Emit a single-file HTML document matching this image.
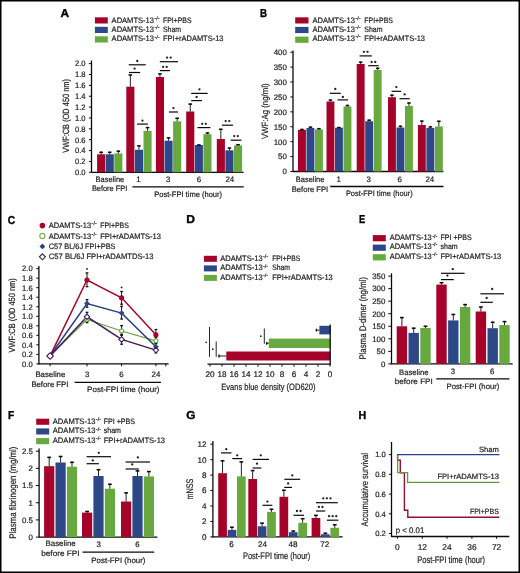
<!DOCTYPE html>
<html><head><meta charset="utf-8"><style>
html,body{margin:0;padding:0;background:#fff;width:520px;height:573px;overflow:hidden}
svg{display:block;will-change:transform}
text{font-family:"Liberation Sans", sans-serif;text-rendering:geometricPrecision;stroke:#222;stroke-width:0.2px}
</style></head><body>
<svg width="520" height="573" viewBox="0 0 520 573">
<rect width="520" height="573" fill="#fff"/>
<g fill="#222">
<rect x="0.75" y="0.75" width="518.5" height="571.5" fill="none" stroke="#000" stroke-width="1.5"/>
<text x="60.60" y="17.10" font-size="11.5" textLength="8.60" lengthAdjust="spacingAndGlyphs" font-weight="bold" fill="#000" style="stroke:#000;stroke-width:0.35px">A</text>
<rect x="94.90" y="17.30" width="12.90" height="6.20" fill="#a6032b"/>
<text x="111.60" y="22.80" font-size="7.9" textLength="42.40" lengthAdjust="spacingAndGlyphs">ADAMTS-13</text>
<text x="154.40" y="19.90" font-size="5.2" textLength="5.20" lengthAdjust="spacingAndGlyphs">-/-</text>
<text x="163.00" y="22.80" font-size="7.9" textLength="28.50" lengthAdjust="spacingAndGlyphs">FPI+PBS</text>
<rect x="94.90" y="26.80" width="12.90" height="6.20" fill="#2d4886"/>
<text x="111.60" y="32.20" font-size="7.9" textLength="42.40" lengthAdjust="spacingAndGlyphs">ADAMTS-13</text>
<text x="154.40" y="29.30" font-size="5.2" textLength="5.20" lengthAdjust="spacingAndGlyphs">-/-</text>
<text x="163.00" y="32.20" font-size="7.9" textLength="18.10" lengthAdjust="spacingAndGlyphs">Sham</text>
<rect x="94.90" y="36.30" width="12.90" height="6.20" fill="#67a93f"/>
<text x="111.60" y="41.40" font-size="7.9" textLength="42.40" lengthAdjust="spacingAndGlyphs">ADAMTS-13</text>
<text x="154.40" y="38.50" font-size="5.2" textLength="5.20" lengthAdjust="spacingAndGlyphs">-/-</text>
<text x="163.00" y="41.40" font-size="7.9" textLength="60.50" lengthAdjust="spacingAndGlyphs">FPI+rADAMTS-13</text>
<line x1="91.50" y1="60.50" x2="91.50" y2="172.80" stroke="#0a0a0a" stroke-width="1.3"/>
<line x1="88.90" y1="172.30" x2="91.50" y2="172.30" stroke="#0a0a0a" stroke-width="1.0"/>
<text x="74.90" y="175.14" font-size="7.9" textLength="10.60" lengthAdjust="spacingAndGlyphs">0.0</text>
<line x1="88.90" y1="161.43" x2="91.50" y2="161.43" stroke="#0a0a0a" stroke-width="1.0"/>
<text x="74.90" y="164.27" font-size="7.9" textLength="10.60" lengthAdjust="spacingAndGlyphs">0.2</text>
<line x1="88.90" y1="150.56" x2="91.50" y2="150.56" stroke="#0a0a0a" stroke-width="1.0"/>
<text x="74.90" y="153.40" font-size="7.9" textLength="10.60" lengthAdjust="spacingAndGlyphs">0.4</text>
<line x1="88.90" y1="139.69" x2="91.50" y2="139.69" stroke="#0a0a0a" stroke-width="1.0"/>
<text x="74.90" y="142.53" font-size="7.9" textLength="10.60" lengthAdjust="spacingAndGlyphs">0.6</text>
<line x1="88.90" y1="128.82" x2="91.50" y2="128.82" stroke="#0a0a0a" stroke-width="1.0"/>
<text x="74.90" y="131.66" font-size="7.9" textLength="10.60" lengthAdjust="spacingAndGlyphs">0.8</text>
<line x1="88.90" y1="117.95" x2="91.50" y2="117.95" stroke="#0a0a0a" stroke-width="1.0"/>
<text x="74.90" y="120.79" font-size="7.9" textLength="10.60" lengthAdjust="spacingAndGlyphs">1.0</text>
<line x1="88.90" y1="107.08" x2="91.50" y2="107.08" stroke="#0a0a0a" stroke-width="1.0"/>
<text x="74.90" y="109.92" font-size="7.9" textLength="10.60" lengthAdjust="spacingAndGlyphs">1.2</text>
<line x1="88.90" y1="96.21" x2="91.50" y2="96.21" stroke="#0a0a0a" stroke-width="1.0"/>
<text x="74.90" y="99.05" font-size="7.9" textLength="10.60" lengthAdjust="spacingAndGlyphs">1.4</text>
<line x1="88.90" y1="85.34" x2="91.50" y2="85.34" stroke="#0a0a0a" stroke-width="1.0"/>
<text x="74.90" y="88.18" font-size="7.9" textLength="10.60" lengthAdjust="spacingAndGlyphs">1.6</text>
<line x1="88.90" y1="74.47" x2="91.50" y2="74.47" stroke="#0a0a0a" stroke-width="1.0"/>
<text x="74.90" y="77.31" font-size="7.9" textLength="10.60" lengthAdjust="spacingAndGlyphs">1.8</text>
<line x1="88.90" y1="63.60" x2="91.50" y2="63.60" stroke="#0a0a0a" stroke-width="1.0"/>
<text x="74.90" y="66.44" font-size="7.9" textLength="10.60" lengthAdjust="spacingAndGlyphs">2.0</text>
<line x1="91.50" y1="172.30" x2="243.60" y2="172.30" stroke="#0a0a0a" stroke-width="1.3"/>
<text x="68.60" y="152.80" font-size="9.0" textLength="73.80" lengthAdjust="spacingAndGlyphs" transform="rotate(-90 68.60 152.80)">VWF:CB (OD 450 nm)</text>
<rect x="97.10" y="154.30" width="8.10" height="18.00" fill="#a6032b"/>
<line x1="101.15" y1="154.30" x2="101.15" y2="151.60" stroke="#0a0a0a" stroke-width="0.9"/>
<line x1="99.35" y1="152.30" x2="102.95" y2="152.30" stroke="#0a0a0a" stroke-width="1.5"/>
<rect x="105.70" y="154.30" width="8.10" height="18.00" fill="#2d4886"/>
<line x1="109.75" y1="154.30" x2="109.75" y2="151.60" stroke="#0a0a0a" stroke-width="0.9"/>
<line x1="107.95" y1="152.30" x2="111.55" y2="152.30" stroke="#0a0a0a" stroke-width="1.5"/>
<rect x="114.30" y="153.40" width="8.10" height="18.90" fill="#67a93f"/>
<line x1="118.35" y1="153.40" x2="118.35" y2="150.50" stroke="#0a0a0a" stroke-width="0.9"/>
<line x1="116.55" y1="151.20" x2="120.15" y2="151.20" stroke="#0a0a0a" stroke-width="1.5"/>
<rect x="126.30" y="86.70" width="8.10" height="85.60" fill="#a6032b"/>
<line x1="130.35" y1="86.70" x2="130.35" y2="74.30" stroke="#0a0a0a" stroke-width="0.9"/>
<line x1="128.55" y1="75.00" x2="132.15" y2="75.00" stroke="#0a0a0a" stroke-width="1.5"/>
<rect x="134.90" y="149.80" width="8.10" height="22.50" fill="#2d4886"/>
<line x1="138.95" y1="149.80" x2="138.95" y2="145.20" stroke="#0a0a0a" stroke-width="0.9"/>
<line x1="137.15" y1="145.90" x2="140.75" y2="145.90" stroke="#0a0a0a" stroke-width="1.5"/>
<rect x="143.50" y="130.90" width="8.10" height="41.40" fill="#67a93f"/>
<line x1="147.55" y1="130.90" x2="147.55" y2="126.90" stroke="#0a0a0a" stroke-width="0.9"/>
<line x1="145.75" y1="127.60" x2="149.35" y2="127.60" stroke="#0a0a0a" stroke-width="1.5"/>
<rect x="155.90" y="77.00" width="8.10" height="95.30" fill="#a6032b"/>
<line x1="159.95" y1="77.00" x2="159.95" y2="73.20" stroke="#0a0a0a" stroke-width="0.9"/>
<line x1="158.15" y1="73.90" x2="161.75" y2="73.90" stroke="#0a0a0a" stroke-width="1.5"/>
<rect x="164.50" y="140.70" width="8.10" height="31.60" fill="#2d4886"/>
<line x1="168.55" y1="140.70" x2="168.55" y2="137.20" stroke="#0a0a0a" stroke-width="0.9"/>
<line x1="166.75" y1="137.90" x2="170.35" y2="137.90" stroke="#0a0a0a" stroke-width="1.5"/>
<rect x="173.10" y="121.30" width="8.10" height="51.00" fill="#67a93f"/>
<line x1="177.15" y1="121.30" x2="177.15" y2="117.60" stroke="#0a0a0a" stroke-width="0.9"/>
<line x1="175.35" y1="118.30" x2="178.95" y2="118.30" stroke="#0a0a0a" stroke-width="1.5"/>
<rect x="186.20" y="111.50" width="8.10" height="60.80" fill="#a6032b"/>
<line x1="190.25" y1="111.50" x2="190.25" y2="103.40" stroke="#0a0a0a" stroke-width="0.9"/>
<line x1="188.45" y1="104.10" x2="192.05" y2="104.10" stroke="#0a0a0a" stroke-width="1.5"/>
<rect x="194.80" y="145.00" width="8.10" height="27.30" fill="#2d4886"/>
<line x1="198.85" y1="145.00" x2="198.85" y2="144.30" stroke="#0a0a0a" stroke-width="0.9"/>
<line x1="197.05" y1="145.00" x2="200.65" y2="145.00" stroke="#0a0a0a" stroke-width="1.5"/>
<rect x="203.40" y="134.20" width="8.10" height="38.10" fill="#67a93f"/>
<line x1="207.45" y1="134.20" x2="207.45" y2="132.30" stroke="#0a0a0a" stroke-width="0.9"/>
<line x1="205.65" y1="133.00" x2="209.25" y2="133.00" stroke="#0a0a0a" stroke-width="1.5"/>
<rect x="216.80" y="139.00" width="8.10" height="33.30" fill="#a6032b"/>
<line x1="220.85" y1="139.00" x2="220.85" y2="128.60" stroke="#0a0a0a" stroke-width="0.9"/>
<line x1="219.05" y1="129.30" x2="222.65" y2="129.30" stroke="#0a0a0a" stroke-width="1.5"/>
<rect x="225.40" y="150.30" width="8.10" height="22.00" fill="#2d4886"/>
<line x1="229.45" y1="150.30" x2="229.45" y2="147.40" stroke="#0a0a0a" stroke-width="0.9"/>
<line x1="227.65" y1="148.10" x2="231.25" y2="148.10" stroke="#0a0a0a" stroke-width="1.5"/>
<rect x="234.00" y="145.40" width="8.10" height="26.90" fill="#67a93f"/>
<line x1="238.05" y1="145.40" x2="238.05" y2="144.00" stroke="#0a0a0a" stroke-width="0.9"/>
<line x1="236.25" y1="144.70" x2="239.85" y2="144.70" stroke="#0a0a0a" stroke-width="1.5"/>
<line x1="128.70" y1="64.80" x2="145.80" y2="64.80" stroke="#0a0a0a" stroke-width="1.2"/>
<circle cx="137.25" cy="61.00" r="1.15" fill="#1e1e1e"/>
<line x1="129.00" y1="72.50" x2="140.20" y2="72.50" stroke="#0a0a0a" stroke-width="1.2"/>
<circle cx="134.60" cy="68.60" r="1.15" fill="#1e1e1e"/>
<line x1="137.00" y1="124.10" x2="147.90" y2="124.10" stroke="#0a0a0a" stroke-width="1.2"/>
<circle cx="142.45" cy="120.60" r="1.15" fill="#1e1e1e"/>
<line x1="159.80" y1="61.70" x2="178.00" y2="61.70" stroke="#0a0a0a" stroke-width="1.2"/>
<circle cx="167.10" cy="57.60" r="1.15" fill="#1e1e1e"/>
<circle cx="170.70" cy="57.60" r="1.15" fill="#1e1e1e"/>
<line x1="159.80" y1="70.60" x2="170.00" y2="70.60" stroke="#0a0a0a" stroke-width="1.2"/>
<circle cx="163.10" cy="66.90" r="1.15" fill="#1e1e1e"/>
<circle cx="166.70" cy="66.90" r="1.15" fill="#1e1e1e"/>
<line x1="168.90" y1="112.00" x2="178.00" y2="112.00" stroke="#0a0a0a" stroke-width="1.2"/>
<circle cx="173.45" cy="108.10" r="1.15" fill="#1e1e1e"/>
<line x1="191.20" y1="93.40" x2="207.70" y2="93.40" stroke="#0a0a0a" stroke-width="1.2"/>
<circle cx="199.45" cy="89.30" r="1.15" fill="#1e1e1e"/>
<line x1="191.20" y1="100.60" x2="202.00" y2="100.60" stroke="#0a0a0a" stroke-width="1.2"/>
<circle cx="196.60" cy="97.00" r="1.15" fill="#1e1e1e"/>
<line x1="197.50" y1="127.60" x2="210.40" y2="127.60" stroke="#0a0a0a" stroke-width="1.2"/>
<circle cx="202.15" cy="123.80" r="1.15" fill="#1e1e1e"/>
<circle cx="205.75" cy="123.80" r="1.15" fill="#1e1e1e"/>
<line x1="221.90" y1="125.20" x2="233.00" y2="125.20" stroke="#0a0a0a" stroke-width="1.2"/>
<circle cx="225.65" cy="121.10" r="1.15" fill="#1e1e1e"/>
<circle cx="229.25" cy="121.10" r="1.15" fill="#1e1e1e"/>
<line x1="230.60" y1="140.20" x2="241.50" y2="140.20" stroke="#0a0a0a" stroke-width="1.2"/>
<circle cx="234.25" cy="136.10" r="1.15" fill="#1e1e1e"/>
<circle cx="237.85" cy="136.10" r="1.15" fill="#1e1e1e"/>
<text x="95.60" y="182.04" font-size="7.9" textLength="28.60" lengthAdjust="spacingAndGlyphs">Baseline</text>
<text x="91.90" y="191.14" font-size="7.9" textLength="35.30" lengthAdjust="spacingAndGlyphs">Before FPI</text>
<text x="138.40" y="182.04" font-size="7.9" text-anchor="middle">1</text>
<text x="168.30" y="182.04" font-size="7.9" text-anchor="middle">3</text>
<text x="199.00" y="182.04" font-size="7.9" text-anchor="middle">6</text>
<text x="229.80" y="182.04" font-size="7.9" text-anchor="middle">24</text>
<line x1="132.40" y1="186.90" x2="243.70" y2="186.90" stroke="#0a0a0a" stroke-width="1.3"/>
<text x="154.20" y="197.44" font-size="7.9" textLength="67.90" lengthAdjust="spacingAndGlyphs">Post-FPI time (hour)</text>
<text x="260.00" y="17.00" font-size="11.5" textLength="7.00" lengthAdjust="spacingAndGlyphs" font-weight="bold" fill="#000" style="stroke:#000;stroke-width:0.35px">B</text>
<rect x="295.20" y="17.30" width="13.30" height="6.20" fill="#a6032b"/>
<text x="312.50" y="22.50" font-size="7.9" textLength="42.50" lengthAdjust="spacingAndGlyphs">ADAMTS-13</text>
<text x="355.40" y="19.60" font-size="5.2" textLength="5.20" lengthAdjust="spacingAndGlyphs">-/-</text>
<text x="364.30" y="22.50" font-size="7.9" textLength="28.70" lengthAdjust="spacingAndGlyphs">FPI+PBS</text>
<rect x="295.20" y="26.90" width="13.30" height="6.20" fill="#2d4886"/>
<text x="312.50" y="32.00" font-size="7.9" textLength="42.50" lengthAdjust="spacingAndGlyphs">ADAMTS-13</text>
<text x="355.40" y="29.10" font-size="5.2" textLength="5.20" lengthAdjust="spacingAndGlyphs">-/-</text>
<text x="364.30" y="32.00" font-size="7.9" textLength="18.20" lengthAdjust="spacingAndGlyphs">Sham</text>
<rect x="295.20" y="36.60" width="13.30" height="6.20" fill="#67a93f"/>
<text x="312.50" y="41.10" font-size="7.9" textLength="42.50" lengthAdjust="spacingAndGlyphs">ADAMTS-13</text>
<text x="355.40" y="38.20" font-size="5.2" textLength="5.20" lengthAdjust="spacingAndGlyphs">-/-</text>
<text x="364.30" y="41.10" font-size="7.9" textLength="60.70" lengthAdjust="spacingAndGlyphs">FPI+rADAMTS-13</text>
<line x1="293.00" y1="50.50" x2="293.00" y2="172.00" stroke="#0a0a0a" stroke-width="1.3"/>
<line x1="290.40" y1="171.50" x2="293.00" y2="171.50" stroke="#0a0a0a" stroke-width="1.0"/>
<text x="286.90" y="174.34" font-size="7.9" text-anchor="end">0</text>
<line x1="290.40" y1="156.59" x2="293.00" y2="156.59" stroke="#0a0a0a" stroke-width="1.0"/>
<text x="286.90" y="159.43" font-size="7.9" text-anchor="end">50</text>
<line x1="290.40" y1="141.68" x2="293.00" y2="141.68" stroke="#0a0a0a" stroke-width="1.0"/>
<text x="286.90" y="144.52" font-size="7.9" text-anchor="end">100</text>
<line x1="290.40" y1="126.76" x2="293.00" y2="126.76" stroke="#0a0a0a" stroke-width="1.0"/>
<text x="286.90" y="129.61" font-size="7.9" text-anchor="end">150</text>
<line x1="290.40" y1="111.85" x2="293.00" y2="111.85" stroke="#0a0a0a" stroke-width="1.0"/>
<text x="286.90" y="114.69" font-size="7.9" text-anchor="end">200</text>
<line x1="290.40" y1="96.94" x2="293.00" y2="96.94" stroke="#0a0a0a" stroke-width="1.0"/>
<text x="286.90" y="99.78" font-size="7.9" text-anchor="end">250</text>
<line x1="290.40" y1="82.02" x2="293.00" y2="82.02" stroke="#0a0a0a" stroke-width="1.0"/>
<text x="286.90" y="84.87" font-size="7.9" text-anchor="end">300</text>
<line x1="290.40" y1="67.11" x2="293.00" y2="67.11" stroke="#0a0a0a" stroke-width="1.0"/>
<text x="286.90" y="69.96" font-size="7.9" text-anchor="end">350</text>
<line x1="290.40" y1="52.20" x2="293.00" y2="52.20" stroke="#0a0a0a" stroke-width="1.0"/>
<text x="286.90" y="55.04" font-size="7.9" text-anchor="end">400</text>
<line x1="293.00" y1="171.50" x2="443.40" y2="171.50" stroke="#0a0a0a" stroke-width="1.3"/>
<text x="268.00" y="139.00" font-size="9.0" textLength="55.60" lengthAdjust="spacingAndGlyphs" transform="rotate(-90 268.00 139.00)">VWF:Ag (ng/ml)</text>
<rect x="298.00" y="129.80" width="7.90" height="41.70" fill="#a6032b"/>
<line x1="301.95" y1="129.80" x2="301.95" y2="128.80" stroke="#0a0a0a" stroke-width="0.9"/>
<line x1="300.20" y1="129.50" x2="303.70" y2="129.50" stroke="#0a0a0a" stroke-width="1.5"/>
<rect x="306.50" y="128.00" width="7.90" height="43.50" fill="#2d4886"/>
<line x1="310.45" y1="128.00" x2="310.45" y2="126.50" stroke="#0a0a0a" stroke-width="0.9"/>
<line x1="308.70" y1="127.20" x2="312.20" y2="127.20" stroke="#0a0a0a" stroke-width="1.5"/>
<rect x="315.00" y="129.40" width="7.90" height="42.10" fill="#67a93f"/>
<line x1="318.95" y1="129.40" x2="318.95" y2="128.00" stroke="#0a0a0a" stroke-width="0.9"/>
<line x1="317.20" y1="128.70" x2="320.70" y2="128.70" stroke="#0a0a0a" stroke-width="1.5"/>
<rect x="326.50" y="101.50" width="7.90" height="70.00" fill="#a6032b"/>
<line x1="330.45" y1="101.50" x2="330.45" y2="99.40" stroke="#0a0a0a" stroke-width="0.9"/>
<line x1="328.70" y1="100.10" x2="332.20" y2="100.10" stroke="#0a0a0a" stroke-width="1.5"/>
<rect x="335.00" y="127.70" width="7.90" height="43.80" fill="#2d4886"/>
<line x1="338.95" y1="127.70" x2="338.95" y2="126.90" stroke="#0a0a0a" stroke-width="0.9"/>
<line x1="337.20" y1="127.60" x2="340.70" y2="127.60" stroke="#0a0a0a" stroke-width="1.5"/>
<rect x="343.50" y="106.50" width="7.90" height="65.00" fill="#67a93f"/>
<line x1="347.45" y1="106.50" x2="347.45" y2="104.80" stroke="#0a0a0a" stroke-width="0.9"/>
<line x1="345.70" y1="105.50" x2="349.20" y2="105.50" stroke="#0a0a0a" stroke-width="1.5"/>
<rect x="356.70" y="64.00" width="7.90" height="107.50" fill="#a6032b"/>
<line x1="360.65" y1="64.00" x2="360.65" y2="61.50" stroke="#0a0a0a" stroke-width="0.9"/>
<line x1="358.90" y1="62.20" x2="362.40" y2="62.20" stroke="#0a0a0a" stroke-width="1.5"/>
<rect x="365.20" y="121.20" width="7.90" height="50.30" fill="#2d4886"/>
<line x1="369.15" y1="121.20" x2="369.15" y2="119.50" stroke="#0a0a0a" stroke-width="0.9"/>
<line x1="367.40" y1="120.20" x2="370.90" y2="120.20" stroke="#0a0a0a" stroke-width="1.5"/>
<rect x="373.70" y="70.00" width="7.90" height="101.50" fill="#67a93f"/>
<line x1="377.65" y1="70.00" x2="377.65" y2="67.60" stroke="#0a0a0a" stroke-width="0.9"/>
<line x1="375.90" y1="68.30" x2="379.40" y2="68.30" stroke="#0a0a0a" stroke-width="1.5"/>
<rect x="388.00" y="97.20" width="7.90" height="74.30" fill="#a6032b"/>
<line x1="391.95" y1="97.20" x2="391.95" y2="94.50" stroke="#0a0a0a" stroke-width="0.9"/>
<line x1="390.20" y1="95.20" x2="393.70" y2="95.20" stroke="#0a0a0a" stroke-width="1.5"/>
<rect x="396.50" y="127.50" width="7.90" height="44.00" fill="#2d4886"/>
<line x1="400.45" y1="127.50" x2="400.45" y2="125.60" stroke="#0a0a0a" stroke-width="0.9"/>
<line x1="398.70" y1="126.30" x2="402.20" y2="126.30" stroke="#0a0a0a" stroke-width="1.5"/>
<rect x="405.00" y="106.00" width="7.90" height="65.50" fill="#67a93f"/>
<line x1="408.95" y1="106.00" x2="408.95" y2="102.30" stroke="#0a0a0a" stroke-width="0.9"/>
<line x1="407.20" y1="103.00" x2="410.70" y2="103.00" stroke="#0a0a0a" stroke-width="1.5"/>
<rect x="417.90" y="125.00" width="7.90" height="46.50" fill="#a6032b"/>
<line x1="421.85" y1="125.00" x2="421.85" y2="120.40" stroke="#0a0a0a" stroke-width="0.9"/>
<line x1="420.10" y1="121.10" x2="423.60" y2="121.10" stroke="#0a0a0a" stroke-width="1.5"/>
<rect x="426.40" y="127.90" width="7.90" height="43.60" fill="#2d4886"/>
<line x1="430.35" y1="127.90" x2="430.35" y2="126.20" stroke="#0a0a0a" stroke-width="0.9"/>
<line x1="428.60" y1="126.90" x2="432.10" y2="126.90" stroke="#0a0a0a" stroke-width="1.5"/>
<rect x="434.90" y="126.50" width="7.90" height="45.00" fill="#67a93f"/>
<line x1="438.85" y1="126.50" x2="438.85" y2="120.60" stroke="#0a0a0a" stroke-width="0.9"/>
<line x1="437.10" y1="121.30" x2="440.60" y2="121.30" stroke="#0a0a0a" stroke-width="1.5"/>
<line x1="329.80" y1="93.30" x2="340.80" y2="93.30" stroke="#0a0a0a" stroke-width="1.2"/>
<circle cx="335.30" cy="89.00" r="1.15" fill="#1e1e1e"/>
<line x1="337.60" y1="99.90" x2="348.10" y2="99.90" stroke="#0a0a0a" stroke-width="1.2"/>
<circle cx="342.85" cy="97.00" r="1.15" fill="#1e1e1e"/>
<line x1="359.60" y1="55.90" x2="371.80" y2="55.90" stroke="#0a0a0a" stroke-width="1.2"/>
<circle cx="363.90" cy="51.80" r="1.15" fill="#1e1e1e"/>
<circle cx="367.50" cy="51.80" r="1.15" fill="#1e1e1e"/>
<line x1="368.20" y1="65.70" x2="378.70" y2="65.70" stroke="#0a0a0a" stroke-width="1.2"/>
<circle cx="371.65" cy="62.00" r="1.15" fill="#1e1e1e"/>
<circle cx="375.25" cy="62.00" r="1.15" fill="#1e1e1e"/>
<line x1="391.60" y1="91.30" x2="401.20" y2="91.30" stroke="#0a0a0a" stroke-width="1.2"/>
<circle cx="396.40" cy="87.10" r="1.15" fill="#1e1e1e"/>
<line x1="399.50" y1="98.70" x2="409.70" y2="98.70" stroke="#0a0a0a" stroke-width="1.2"/>
<circle cx="404.60" cy="94.40" r="1.15" fill="#1e1e1e"/>
<text x="295.80" y="182.04" font-size="7.9" textLength="28.60" lengthAdjust="spacingAndGlyphs">Baseline</text>
<text x="291.80" y="191.64" font-size="7.9" textLength="36.30" lengthAdjust="spacingAndGlyphs">Before FPI</text>
<text x="338.80" y="181.84" font-size="7.9" text-anchor="middle">1</text>
<text x="368.70" y="181.84" font-size="7.9" text-anchor="middle">3</text>
<text x="399.80" y="181.84" font-size="7.9" text-anchor="middle">6</text>
<text x="429.80" y="181.84" font-size="7.9" text-anchor="middle">24</text>
<line x1="330.20" y1="186.50" x2="443.50" y2="186.50" stroke="#0a0a0a" stroke-width="1.3"/>
<text x="345.90" y="196.44" font-size="7.9" textLength="66.80" lengthAdjust="spacingAndGlyphs">Post-FPI time (hour)</text>
<text x="7.70" y="223.60" font-size="11.5" textLength="7.40" lengthAdjust="spacingAndGlyphs" font-weight="bold" fill="#000" style="stroke:#000;stroke-width:0.35px">C</text>
<circle cx="42.40" cy="225.60" r="2.8" fill="#a6032b"/>
<circle cx="42.40" cy="236.00" r="2.6" fill="#fff" stroke="#78b04e" stroke-width="1.1"/>
<polygon points="42.4,243.5 45.3,246.4 42.4,249.3 39.5,246.4" fill="#2c4277"/>
<polygon points="42.4,253.8 45.4,256.8 42.4,259.8 39.4,256.8" fill="#fff" stroke="#35204d" stroke-width="1.1"/>
<text x="48.80" y="228.30" font-size="7.9" textLength="42.40" lengthAdjust="spacingAndGlyphs">ADAMTS-13</text>
<text x="91.60" y="225.40" font-size="5.2" textLength="5.20" lengthAdjust="spacingAndGlyphs">-/-</text>
<text x="100.20" y="228.30" font-size="7.9" textLength="28.60" lengthAdjust="spacingAndGlyphs">FPI+PBS</text>
<text x="48.80" y="238.60" font-size="7.9" textLength="42.40" lengthAdjust="spacingAndGlyphs">ADAMTS-13</text>
<text x="91.60" y="235.70" font-size="5.2" textLength="5.20" lengthAdjust="spacingAndGlyphs">-/-</text>
<text x="100.20" y="238.60" font-size="7.9" textLength="60.80" lengthAdjust="spacingAndGlyphs">FPI+rADAMTS-13</text>
<text x="48.80" y="248.90" font-size="7.9" textLength="66.70" lengthAdjust="spacingAndGlyphs">C57 BL/6J FPI+PBS</text>
<text x="48.80" y="259.20" font-size="7.9" textLength="104.70" lengthAdjust="spacingAndGlyphs">C57 BL/6J FPI+rADAMTDS-13</text>
<line x1="38.90" y1="266.00" x2="38.90" y2="364.40" stroke="#0a0a0a" stroke-width="1.3"/>
<line x1="36.30" y1="363.90" x2="38.90" y2="363.90" stroke="#0a0a0a" stroke-width="1.0"/>
<text x="22.10" y="366.74" font-size="7.9" textLength="10.60" lengthAdjust="spacingAndGlyphs">0.0</text>
<line x1="36.30" y1="354.37" x2="38.90" y2="354.37" stroke="#0a0a0a" stroke-width="1.0"/>
<text x="22.10" y="357.21" font-size="7.9" textLength="10.60" lengthAdjust="spacingAndGlyphs">0.2</text>
<line x1="36.30" y1="344.84" x2="38.90" y2="344.84" stroke="#0a0a0a" stroke-width="1.0"/>
<text x="22.10" y="347.68" font-size="7.9" textLength="10.60" lengthAdjust="spacingAndGlyphs">0.4</text>
<line x1="36.30" y1="335.31" x2="38.90" y2="335.31" stroke="#0a0a0a" stroke-width="1.0"/>
<text x="22.10" y="338.15" font-size="7.9" textLength="10.60" lengthAdjust="spacingAndGlyphs">0.6</text>
<line x1="36.30" y1="325.78" x2="38.90" y2="325.78" stroke="#0a0a0a" stroke-width="1.0"/>
<text x="22.10" y="328.62" font-size="7.9" textLength="10.60" lengthAdjust="spacingAndGlyphs">0.8</text>
<line x1="36.30" y1="316.25" x2="38.90" y2="316.25" stroke="#0a0a0a" stroke-width="1.0"/>
<text x="22.10" y="319.09" font-size="7.9" textLength="10.60" lengthAdjust="spacingAndGlyphs">1.0</text>
<line x1="36.30" y1="306.72" x2="38.90" y2="306.72" stroke="#0a0a0a" stroke-width="1.0"/>
<text x="22.10" y="309.56" font-size="7.9" textLength="10.60" lengthAdjust="spacingAndGlyphs">1.2</text>
<line x1="36.30" y1="297.19" x2="38.90" y2="297.19" stroke="#0a0a0a" stroke-width="1.0"/>
<text x="22.10" y="300.03" font-size="7.9" textLength="10.60" lengthAdjust="spacingAndGlyphs">1.4</text>
<line x1="36.30" y1="287.66" x2="38.90" y2="287.66" stroke="#0a0a0a" stroke-width="1.0"/>
<text x="22.10" y="290.50" font-size="7.9" textLength="10.60" lengthAdjust="spacingAndGlyphs">1.6</text>
<line x1="36.30" y1="278.13" x2="38.90" y2="278.13" stroke="#0a0a0a" stroke-width="1.0"/>
<text x="22.10" y="280.97" font-size="7.9" textLength="10.60" lengthAdjust="spacingAndGlyphs">1.8</text>
<line x1="36.30" y1="268.60" x2="38.90" y2="268.60" stroke="#0a0a0a" stroke-width="1.0"/>
<text x="22.10" y="271.44" font-size="7.9" textLength="10.60" lengthAdjust="spacingAndGlyphs">2.0</text>
<line x1="38.90" y1="363.90" x2="168.60" y2="363.90" stroke="#0a0a0a" stroke-width="1.3"/>
<line x1="50.10" y1="363.90" x2="50.10" y2="366.30" stroke="#0a0a0a" stroke-width="1.0"/>
<line x1="87.00" y1="363.90" x2="87.00" y2="366.30" stroke="#0a0a0a" stroke-width="1.0"/>
<line x1="121.60" y1="363.90" x2="121.60" y2="366.30" stroke="#0a0a0a" stroke-width="1.0"/>
<line x1="155.90" y1="363.90" x2="155.90" y2="366.30" stroke="#0a0a0a" stroke-width="1.0"/>
<line x1="165.80" y1="363.90" x2="165.80" y2="366.30" stroke="#0a0a0a" stroke-width="1.0"/>
<text x="15.10" y="352.40" font-size="9.0" textLength="74.20" lengthAdjust="spacingAndGlyphs" transform="rotate(-90 15.10 352.40)">VWF:CB (OD 450 nm)</text>
<line x1="87.00" y1="272.60" x2="87.00" y2="287.00" stroke="#111" stroke-width="1.0"/>
<line x1="85.60" y1="272.90" x2="88.40" y2="272.90" stroke="#0a0a0a" stroke-width="1.2"/>
<line x1="85.60" y1="286.70" x2="88.40" y2="286.70" stroke="#0a0a0a" stroke-width="1.2"/>
<line x1="121.60" y1="291.20" x2="121.60" y2="304.50" stroke="#111" stroke-width="1.0"/>
<line x1="120.20" y1="291.50" x2="123.00" y2="291.50" stroke="#0a0a0a" stroke-width="1.2"/>
<line x1="120.20" y1="304.20" x2="123.00" y2="304.20" stroke="#0a0a0a" stroke-width="1.2"/>
<line x1="155.90" y1="329.20" x2="155.90" y2="340.00" stroke="#111" stroke-width="1.0"/>
<line x1="154.50" y1="329.50" x2="157.30" y2="329.50" stroke="#0a0a0a" stroke-width="1.2"/>
<line x1="154.50" y1="339.70" x2="157.30" y2="339.70" stroke="#0a0a0a" stroke-width="1.2"/>
<line x1="87.00" y1="315.00" x2="87.00" y2="323.00" stroke="#111" stroke-width="1.0"/>
<line x1="85.60" y1="315.30" x2="88.40" y2="315.30" stroke="#0a0a0a" stroke-width="1.2"/>
<line x1="85.60" y1="322.70" x2="88.40" y2="322.70" stroke="#0a0a0a" stroke-width="1.2"/>
<line x1="121.60" y1="325.30" x2="121.60" y2="335.50" stroke="#111" stroke-width="1.0"/>
<line x1="120.20" y1="325.60" x2="123.00" y2="325.60" stroke="#0a0a0a" stroke-width="1.2"/>
<line x1="120.20" y1="335.20" x2="123.00" y2="335.20" stroke="#0a0a0a" stroke-width="1.2"/>
<line x1="155.90" y1="337.00" x2="155.90" y2="344.00" stroke="#111" stroke-width="1.0"/>
<line x1="154.50" y1="337.30" x2="157.30" y2="337.30" stroke="#0a0a0a" stroke-width="1.2"/>
<line x1="154.50" y1="343.70" x2="157.30" y2="343.70" stroke="#0a0a0a" stroke-width="1.2"/>
<line x1="87.00" y1="299.30" x2="87.00" y2="307.50" stroke="#111" stroke-width="1.0"/>
<line x1="85.60" y1="299.60" x2="88.40" y2="299.60" stroke="#0a0a0a" stroke-width="1.2"/>
<line x1="85.60" y1="307.20" x2="88.40" y2="307.20" stroke="#0a0a0a" stroke-width="1.2"/>
<line x1="121.60" y1="306.00" x2="121.60" y2="319.30" stroke="#111" stroke-width="1.0"/>
<line x1="120.20" y1="306.30" x2="123.00" y2="306.30" stroke="#0a0a0a" stroke-width="1.2"/>
<line x1="120.20" y1="319.00" x2="123.00" y2="319.00" stroke="#0a0a0a" stroke-width="1.2"/>
<line x1="155.90" y1="343.00" x2="155.90" y2="350.00" stroke="#111" stroke-width="1.0"/>
<line x1="154.50" y1="343.30" x2="157.30" y2="343.30" stroke="#0a0a0a" stroke-width="1.2"/>
<line x1="154.50" y1="349.70" x2="157.30" y2="349.70" stroke="#0a0a0a" stroke-width="1.2"/>
<line x1="87.00" y1="312.00" x2="87.00" y2="321.80" stroke="#111" stroke-width="1.0"/>
<line x1="85.60" y1="312.30" x2="88.40" y2="312.30" stroke="#0a0a0a" stroke-width="1.2"/>
<line x1="85.60" y1="321.50" x2="88.40" y2="321.50" stroke="#0a0a0a" stroke-width="1.2"/>
<line x1="121.60" y1="334.50" x2="121.60" y2="344.50" stroke="#111" stroke-width="1.0"/>
<line x1="120.20" y1="334.80" x2="123.00" y2="334.80" stroke="#0a0a0a" stroke-width="1.2"/>
<line x1="120.20" y1="344.20" x2="123.00" y2="344.20" stroke="#0a0a0a" stroke-width="1.2"/>
<line x1="155.90" y1="347.00" x2="155.90" y2="353.20" stroke="#111" stroke-width="1.0"/>
<line x1="154.50" y1="347.30" x2="157.30" y2="347.30" stroke="#0a0a0a" stroke-width="1.2"/>
<line x1="154.50" y1="352.90" x2="157.30" y2="352.90" stroke="#0a0a0a" stroke-width="1.2"/>
<polyline points="50.10,355.80 87.00,280.00 121.60,297.80 155.90,334.80" fill="none" stroke="#a6032b" stroke-width="1.5" stroke-linejoin="miter"/>
<polyline points="50.10,355.80 87.00,319.40 121.60,331.00 155.90,340.80" fill="none" stroke="#6f9f45" stroke-width="1.2" stroke-linejoin="miter"/>
<polyline points="50.10,355.80 87.00,303.50 121.60,313.10 155.90,346.80" fill="none" stroke="#2a3f7c" stroke-width="1.5" stroke-linejoin="miter"/>
<polyline points="50.10,356.00 87.00,316.80 121.60,339.40 155.90,350.10" fill="none" stroke="#3f1d57" stroke-width="1.5" stroke-linejoin="miter"/>
<circle cx="50.10" cy="355.80" r="2.6" fill="#a6032b"/>
<circle cx="87.00" cy="280.00" r="2.6" fill="#a6032b"/>
<circle cx="121.60" cy="297.80" r="2.6" fill="#a6032b"/>
<circle cx="155.90" cy="334.80" r="2.6" fill="#a6032b"/>
<circle cx="50.10" cy="355.80" r="2.0" fill="#fff" stroke="#67a93f" stroke-width="1.1"/>
<circle cx="87.00" cy="319.40" r="2.0" fill="#fff" stroke="#67a93f" stroke-width="1.1"/>
<circle cx="121.60" cy="331.00" r="2.0" fill="#fff" stroke="#67a93f" stroke-width="1.1"/>
<circle cx="155.90" cy="340.80" r="2.0" fill="#fff" stroke="#67a93f" stroke-width="1.1"/>
<polygon points="50.1,352.90000000000003 53.0,355.8 50.1,358.7 47.2,355.8" fill="#2d4886"/>
<polygon points="87.0,300.6 89.9,303.5 87.0,306.4 84.1,303.5" fill="#2d4886"/>
<polygon points="121.6,310.20000000000005 124.5,313.1 121.6,316.0 118.69999999999999,313.1" fill="#2d4886"/>
<polygon points="155.9,343.90000000000003 158.8,346.8 155.9,349.7 153.0,346.8" fill="#2d4886"/>
<polygon points="50.1,352.7 53.4,356.0 50.1,359.3 46.800000000000004,356.0" fill="#fff" stroke="#3f1d57" stroke-width="1.1"/>
<polygon points="87.0,314.1 89.7,316.8 87.0,319.5 84.3,316.8" fill="#fff" stroke="#3f1d57" stroke-width="1.1"/>
<polygon points="121.6,336.7 124.3,339.4 121.6,342.09999999999997 118.89999999999999,339.4" fill="#fff" stroke="#3f1d57" stroke-width="1.1"/>
<polygon points="155.9,347.40000000000003 158.6,350.1 155.9,352.8 153.20000000000002,350.1" fill="#fff" stroke="#3f1d57" stroke-width="1.1"/>
<circle cx="87.00" cy="268.90" r="0.95" fill="#1e1e1e"/>
<circle cx="121.60" cy="287.40" r="0.95" fill="#1e1e1e"/>
<text x="35.40" y="377.14" font-size="7.9" textLength="29.90" lengthAdjust="spacingAndGlyphs">Baseline</text>
<text x="31.40" y="386.84" font-size="7.9" textLength="37.00" lengthAdjust="spacingAndGlyphs">Before FPI</text>
<text x="87.10" y="377.14" font-size="7.9" text-anchor="middle">3</text>
<text x="121.50" y="377.14" font-size="7.9" text-anchor="middle">6</text>
<text x="155.90" y="377.14" font-size="7.9" text-anchor="middle">24</text>
<line x1="74.60" y1="382.30" x2="160.90" y2="382.30" stroke="#0a0a0a" stroke-width="1.3"/>
<text x="87.10" y="392.44" font-size="7.9" textLength="72.40" lengthAdjust="spacingAndGlyphs">Post-FPI time (hour)</text>
<text x="186.20" y="223.00" font-size="11.5" textLength="8.70" lengthAdjust="spacingAndGlyphs" font-weight="bold" fill="#000" style="stroke:#000;stroke-width:0.35px">D</text>
<rect x="203.90" y="255.80" width="13.00" height="6.00" fill="#a6032b"/>
<text x="220.30" y="261.10" font-size="7.9" textLength="42.30" lengthAdjust="spacingAndGlyphs">ADAMTS-13</text>
<text x="263.00" y="258.20" font-size="5.2" textLength="5.20" lengthAdjust="spacingAndGlyphs">-/-</text>
<text x="272.20" y="261.10" font-size="7.9" textLength="28.10" lengthAdjust="spacingAndGlyphs">FPI+PBS</text>
<rect x="203.90" y="265.40" width="13.00" height="6.00" fill="#2d4886"/>
<text x="220.30" y="270.40" font-size="7.9" textLength="42.30" lengthAdjust="spacingAndGlyphs">ADAMTS-13</text>
<text x="263.00" y="267.50" font-size="5.2" textLength="5.20" lengthAdjust="spacingAndGlyphs">-/-</text>
<text x="272.20" y="270.40" font-size="7.9" textLength="17.80" lengthAdjust="spacingAndGlyphs">Sham</text>
<rect x="203.90" y="274.90" width="13.00" height="6.00" fill="#67a93f"/>
<text x="220.30" y="279.80" font-size="7.9" textLength="42.30" lengthAdjust="spacingAndGlyphs">ADAMTS-13</text>
<text x="263.00" y="276.90" font-size="5.2" textLength="5.20" lengthAdjust="spacingAndGlyphs">-/-</text>
<text x="272.20" y="279.80" font-size="7.9" textLength="60.60" lengthAdjust="spacingAndGlyphs">FPI+rADAMTS-13</text>
<rect x="319.40" y="325.80" width="10.80" height="8.60" fill="#2d4886"/>
<rect x="268.80" y="338.60" width="61.40" height="9.40" fill="#67a93f"/>
<rect x="226.30" y="351.50" width="103.90" height="9.00" fill="#a6032b"/>
<line x1="315.90" y1="330.10" x2="319.40" y2="330.10" stroke="#0a0a0a" stroke-width="0.9"/>
<line x1="316.40" y1="328.70" x2="316.40" y2="331.50" stroke="#0a0a0a" stroke-width="1.3"/>
<line x1="266.20" y1="343.30" x2="268.80" y2="343.30" stroke="#0a0a0a" stroke-width="0.9"/>
<line x1="266.70" y1="341.90" x2="266.70" y2="344.70" stroke="#0a0a0a" stroke-width="1.3"/>
<line x1="218.50" y1="356.00" x2="226.30" y2="356.00" stroke="#0a0a0a" stroke-width="0.9"/>
<line x1="219.00" y1="354.60" x2="219.00" y2="357.40" stroke="#0a0a0a" stroke-width="1.3"/>
<line x1="330.20" y1="324.40" x2="330.20" y2="364.70" stroke="#0a0a0a" stroke-width="1.3"/>
<line x1="207.50" y1="364.20" x2="330.70" y2="364.20" stroke="#0a0a0a" stroke-width="1.3"/>
<line x1="210.00" y1="364.20" x2="210.00" y2="366.60" stroke="#0a0a0a" stroke-width="1.0"/>
<text x="210.00" y="376.85" font-size="8.2" text-anchor="middle">20</text>
<line x1="222.00" y1="364.20" x2="222.00" y2="366.60" stroke="#0a0a0a" stroke-width="1.0"/>
<text x="222.00" y="376.85" font-size="8.2" text-anchor="middle">18</text>
<line x1="234.00" y1="364.20" x2="234.00" y2="366.60" stroke="#0a0a0a" stroke-width="1.0"/>
<text x="234.00" y="376.85" font-size="8.2" text-anchor="middle">16</text>
<line x1="246.00" y1="364.20" x2="246.00" y2="366.60" stroke="#0a0a0a" stroke-width="1.0"/>
<text x="246.00" y="376.85" font-size="8.2" text-anchor="middle">14</text>
<line x1="258.00" y1="364.20" x2="258.00" y2="366.60" stroke="#0a0a0a" stroke-width="1.0"/>
<text x="258.00" y="376.85" font-size="8.2" text-anchor="middle">12</text>
<line x1="270.00" y1="364.20" x2="270.00" y2="366.60" stroke="#0a0a0a" stroke-width="1.0"/>
<text x="270.00" y="376.85" font-size="8.2" text-anchor="middle">10</text>
<line x1="282.00" y1="364.20" x2="282.00" y2="366.60" stroke="#0a0a0a" stroke-width="1.0"/>
<text x="282.00" y="376.85" font-size="8.2" text-anchor="middle">8</text>
<line x1="294.00" y1="364.20" x2="294.00" y2="366.60" stroke="#0a0a0a" stroke-width="1.0"/>
<text x="294.00" y="376.85" font-size="8.2" text-anchor="middle">6</text>
<line x1="306.00" y1="364.20" x2="306.00" y2="366.60" stroke="#0a0a0a" stroke-width="1.0"/>
<text x="306.00" y="376.85" font-size="8.2" text-anchor="middle">4</text>
<line x1="318.00" y1="364.20" x2="318.00" y2="366.60" stroke="#0a0a0a" stroke-width="1.0"/>
<text x="318.00" y="376.85" font-size="8.2" text-anchor="middle">2</text>
<line x1="330.00" y1="364.20" x2="330.00" y2="366.60" stroke="#0a0a0a" stroke-width="1.0"/>
<text x="330.00" y="376.85" font-size="8.2" text-anchor="middle">0</text>
<text x="221.30" y="389.60" font-size="9.2" textLength="94.20" lengthAdjust="spacingAndGlyphs">Evans blue density (OD620)</text>
<line x1="209.50" y1="326.90" x2="209.50" y2="356.90" stroke="#0a0a0a" stroke-width="0.9"/>
<line x1="216.20" y1="341.50" x2="216.20" y2="356.90" stroke="#0a0a0a" stroke-width="0.9"/>
<line x1="264.30" y1="328.50" x2="264.30" y2="343.80" stroke="#0a0a0a" stroke-width="0.9"/>
<circle cx="206.20" cy="342.30" r="0.85" fill="#1e1e1e"/>
<circle cx="212.80" cy="349.20" r="0.85" fill="#1e1e1e"/>
<circle cx="260.80" cy="336.20" r="0.85" fill="#1e1e1e"/>
<text x="359.00" y="223.30" font-size="11.5" textLength="6.20" lengthAdjust="spacingAndGlyphs" font-weight="bold" fill="#000" style="stroke:#000;stroke-width:0.35px">E</text>
<rect x="372.80" y="235.10" width="13.00" height="6.20" fill="#a6032b"/>
<text x="389.70" y="240.40" font-size="7.9" textLength="42.10" lengthAdjust="spacingAndGlyphs">ADAMTS-13</text>
<text x="432.20" y="237.50" font-size="5.2" textLength="5.20" lengthAdjust="spacingAndGlyphs">-/-</text>
<text x="440.50" y="240.40" font-size="7.9" textLength="31.10" lengthAdjust="spacingAndGlyphs">FPI +PBS</text>
<rect x="372.80" y="244.60" width="13.00" height="6.20" fill="#2d4886"/>
<text x="389.70" y="249.30" font-size="7.9" textLength="42.10" lengthAdjust="spacingAndGlyphs">ADAMTS-13</text>
<text x="432.20" y="246.40" font-size="5.2" textLength="5.20" lengthAdjust="spacingAndGlyphs">-/-</text>
<text x="440.50" y="249.30" font-size="7.9" textLength="17.20" lengthAdjust="spacingAndGlyphs">sham</text>
<rect x="372.80" y="254.20" width="13.00" height="6.20" fill="#67a93f"/>
<text x="389.70" y="258.80" font-size="7.9" textLength="42.10" lengthAdjust="spacingAndGlyphs">ADAMTS-13</text>
<text x="432.20" y="255.90" font-size="5.2" textLength="5.20" lengthAdjust="spacingAndGlyphs">-/-</text>
<text x="440.50" y="258.80" font-size="7.9" textLength="60.80" lengthAdjust="spacingAndGlyphs">FPI+rADAMTS-13</text>
<line x1="391.50" y1="273.30" x2="391.50" y2="364.40" stroke="#0a0a0a" stroke-width="1.3"/>
<line x1="388.30" y1="363.90" x2="391.50" y2="363.90" stroke="#0a0a0a" stroke-width="1.0"/>
<text x="385.30" y="366.74" font-size="7.9" text-anchor="end">0</text>
<line x1="388.30" y1="351.36" x2="391.50" y2="351.36" stroke="#0a0a0a" stroke-width="1.0"/>
<text x="385.30" y="354.20" font-size="7.9" text-anchor="end">50</text>
<line x1="388.30" y1="338.81" x2="391.50" y2="338.81" stroke="#0a0a0a" stroke-width="1.0"/>
<text x="385.30" y="341.66" font-size="7.9" text-anchor="end">100</text>
<line x1="388.30" y1="326.27" x2="391.50" y2="326.27" stroke="#0a0a0a" stroke-width="1.0"/>
<text x="385.30" y="329.12" font-size="7.9" text-anchor="end">150</text>
<line x1="388.30" y1="313.73" x2="391.50" y2="313.73" stroke="#0a0a0a" stroke-width="1.0"/>
<text x="385.30" y="316.57" font-size="7.9" text-anchor="end">200</text>
<line x1="388.30" y1="301.19" x2="391.50" y2="301.19" stroke="#0a0a0a" stroke-width="1.0"/>
<text x="385.30" y="304.03" font-size="7.9" text-anchor="end">250</text>
<line x1="388.30" y1="288.64" x2="391.50" y2="288.64" stroke="#0a0a0a" stroke-width="1.0"/>
<text x="385.30" y="291.49" font-size="7.9" text-anchor="end">300</text>
<line x1="388.30" y1="276.10" x2="391.50" y2="276.10" stroke="#0a0a0a" stroke-width="1.0"/>
<text x="385.30" y="278.94" font-size="7.9" text-anchor="end">350</text>
<line x1="391.50" y1="363.90" x2="512.70" y2="363.90" stroke="#0a0a0a" stroke-width="1.3"/>
<text x="365.80" y="359.60" font-size="9.6" textLength="82.60" lengthAdjust="spacingAndGlyphs" transform="rotate(-90 365.80 359.60)">Plasma D-dimer (ng/ml)</text>
<rect x="396.70" y="326.30" width="10.40" height="37.60" fill="#a6032b"/>
<line x1="401.90" y1="326.30" x2="401.90" y2="316.90" stroke="#0a0a0a" stroke-width="0.9"/>
<line x1="400.00" y1="317.60" x2="403.80" y2="317.60" stroke="#0a0a0a" stroke-width="1.5"/>
<rect x="408.50" y="332.90" width="10.40" height="31.00" fill="#2d4886"/>
<line x1="413.70" y1="332.90" x2="413.70" y2="327.50" stroke="#0a0a0a" stroke-width="0.9"/>
<line x1="411.80" y1="328.20" x2="415.60" y2="328.20" stroke="#0a0a0a" stroke-width="1.5"/>
<rect x="420.30" y="328.00" width="10.40" height="35.90" fill="#67a93f"/>
<line x1="425.50" y1="328.00" x2="425.50" y2="325.60" stroke="#0a0a0a" stroke-width="0.9"/>
<line x1="423.60" y1="326.30" x2="427.40" y2="326.30" stroke="#0a0a0a" stroke-width="1.5"/>
<rect x="436.30" y="284.60" width="10.40" height="79.30" fill="#a6032b"/>
<line x1="441.50" y1="284.60" x2="441.50" y2="282.00" stroke="#0a0a0a" stroke-width="0.9"/>
<line x1="439.60" y1="282.70" x2="443.40" y2="282.70" stroke="#0a0a0a" stroke-width="1.5"/>
<rect x="448.10" y="320.40" width="10.40" height="43.50" fill="#2d4886"/>
<line x1="453.30" y1="320.40" x2="453.30" y2="313.80" stroke="#0a0a0a" stroke-width="0.9"/>
<line x1="451.40" y1="314.50" x2="455.20" y2="314.50" stroke="#0a0a0a" stroke-width="1.5"/>
<rect x="459.90" y="307.00" width="10.40" height="56.90" fill="#67a93f"/>
<line x1="465.10" y1="307.00" x2="465.10" y2="303.90" stroke="#0a0a0a" stroke-width="0.9"/>
<line x1="463.20" y1="304.60" x2="467.00" y2="304.60" stroke="#0a0a0a" stroke-width="1.5"/>
<rect x="475.70" y="311.50" width="10.40" height="52.40" fill="#a6032b"/>
<line x1="480.90" y1="311.50" x2="480.90" y2="306.30" stroke="#0a0a0a" stroke-width="0.9"/>
<line x1="479.00" y1="307.00" x2="482.80" y2="307.00" stroke="#0a0a0a" stroke-width="1.5"/>
<rect x="487.50" y="328.20" width="10.40" height="35.70" fill="#2d4886"/>
<line x1="492.70" y1="328.20" x2="492.70" y2="321.60" stroke="#0a0a0a" stroke-width="0.9"/>
<line x1="490.80" y1="322.30" x2="494.60" y2="322.30" stroke="#0a0a0a" stroke-width="1.5"/>
<rect x="499.30" y="325.10" width="10.40" height="38.80" fill="#67a93f"/>
<line x1="504.50" y1="325.10" x2="504.50" y2="320.90" stroke="#0a0a0a" stroke-width="0.9"/>
<line x1="502.60" y1="321.60" x2="506.40" y2="321.60" stroke="#0a0a0a" stroke-width="1.5"/>
<line x1="441.00" y1="273.30" x2="464.60" y2="273.30" stroke="#0a0a0a" stroke-width="1.2"/>
<circle cx="452.80" cy="269.20" r="1.15" fill="#1e1e1e"/>
<line x1="441.00" y1="279.60" x2="453.80" y2="279.60" stroke="#0a0a0a" stroke-width="1.2"/>
<circle cx="447.40" cy="275.60" r="1.15" fill="#1e1e1e"/>
<line x1="480.40" y1="293.80" x2="504.00" y2="293.80" stroke="#0a0a0a" stroke-width="1.2"/>
<circle cx="492.20" cy="289.00" r="1.15" fill="#1e1e1e"/>
<line x1="480.40" y1="302.30" x2="492.90" y2="302.30" stroke="#0a0a0a" stroke-width="1.2"/>
<circle cx="486.65" cy="298.00" r="1.15" fill="#1e1e1e"/>
<text x="399.10" y="374.81" font-size="7.8" textLength="29.40" lengthAdjust="spacingAndGlyphs">Baseline</text>
<text x="394.80" y="384.11" font-size="7.8" textLength="38.00" lengthAdjust="spacingAndGlyphs">before FPI</text>
<text x="453.00" y="374.41" font-size="7.8" text-anchor="middle">3</text>
<text x="492.20" y="374.41" font-size="7.8" text-anchor="middle">6</text>
<line x1="436.20" y1="378.90" x2="509.50" y2="378.90" stroke="#0a0a0a" stroke-width="1.3"/>
<text x="446.50" y="389.21" font-size="7.8" textLength="52.90" lengthAdjust="spacingAndGlyphs">Post-FPI (hour)</text>
<text x="7.90" y="418.90" font-size="11.5" textLength="6.20" lengthAdjust="spacingAndGlyphs" font-weight="bold" fill="#000" style="stroke:#000;stroke-width:0.35px">F</text>
<rect x="36.20" y="418.70" width="13.00" height="6.10" fill="#a6032b"/>
<text x="52.80" y="423.70" font-size="7.9" textLength="42.60" lengthAdjust="spacingAndGlyphs">ADAMTS-13</text>
<text x="95.80" y="420.80" font-size="5.2" textLength="5.20" lengthAdjust="spacingAndGlyphs">-/-</text>
<text x="103.70" y="423.70" font-size="7.9" textLength="31.30" lengthAdjust="spacingAndGlyphs">FPI +PBS</text>
<rect x="36.20" y="428.40" width="13.00" height="6.10" fill="#2d4886"/>
<text x="52.80" y="433.40" font-size="7.9" textLength="42.60" lengthAdjust="spacingAndGlyphs">ADAMTS-13</text>
<text x="95.80" y="430.50" font-size="5.2" textLength="5.20" lengthAdjust="spacingAndGlyphs">-/-</text>
<text x="103.70" y="433.40" font-size="7.9" textLength="17.30" lengthAdjust="spacingAndGlyphs">sham</text>
<rect x="36.20" y="438.10" width="13.00" height="6.10" fill="#67a93f"/>
<text x="52.80" y="442.90" font-size="7.9" textLength="42.60" lengthAdjust="spacingAndGlyphs">ADAMTS-13</text>
<text x="95.80" y="440.00" font-size="5.2" textLength="5.20" lengthAdjust="spacingAndGlyphs">-/-</text>
<text x="103.70" y="442.90" font-size="7.9" textLength="61.40" lengthAdjust="spacingAndGlyphs">FPI+rADAMTS-13</text>
<line x1="39.10" y1="448.40" x2="39.10" y2="537.60" stroke="#0a0a0a" stroke-width="1.3"/>
<line x1="35.90" y1="537.10" x2="39.10" y2="537.10" stroke="#0a0a0a" stroke-width="1.0"/>
<text x="33.00" y="539.94" font-size="7.9" text-anchor="end">0</text>
<line x1="35.90" y1="519.92" x2="39.10" y2="519.92" stroke="#0a0a0a" stroke-width="1.0"/>
<text x="33.00" y="522.76" font-size="7.9" text-anchor="end">0.5</text>
<line x1="35.90" y1="502.74" x2="39.10" y2="502.74" stroke="#0a0a0a" stroke-width="1.0"/>
<text x="33.00" y="505.58" font-size="7.9" text-anchor="end">1</text>
<line x1="35.90" y1="485.56" x2="39.10" y2="485.56" stroke="#0a0a0a" stroke-width="1.0"/>
<text x="33.00" y="488.40" font-size="7.9" text-anchor="end">1.5</text>
<line x1="35.90" y1="468.38" x2="39.10" y2="468.38" stroke="#0a0a0a" stroke-width="1.0"/>
<text x="33.00" y="471.22" font-size="7.9" text-anchor="end">2</text>
<line x1="35.90" y1="451.20" x2="39.10" y2="451.20" stroke="#0a0a0a" stroke-width="1.0"/>
<text x="33.00" y="454.04" font-size="7.9" text-anchor="end">2.5</text>
<line x1="39.10" y1="537.10" x2="157.40" y2="537.10" stroke="#0a0a0a" stroke-width="1.3"/>
<text x="15.80" y="538.80" font-size="9.6" textLength="92.30" lengthAdjust="spacingAndGlyphs" transform="rotate(-90 15.80 538.80)">Plasma fibrinogen (mg/ml)</text>
<rect x="44.10" y="466.20" width="10.20" height="70.90" fill="#a6032b"/>
<line x1="49.20" y1="466.20" x2="49.20" y2="456.70" stroke="#0a0a0a" stroke-width="0.9"/>
<line x1="47.30" y1="457.40" x2="51.10" y2="457.40" stroke="#0a0a0a" stroke-width="1.5"/>
<rect x="55.50" y="462.50" width="10.20" height="74.60" fill="#2d4886"/>
<line x1="60.60" y1="462.50" x2="60.60" y2="455.80" stroke="#0a0a0a" stroke-width="0.9"/>
<line x1="58.70" y1="456.50" x2="62.50" y2="456.50" stroke="#0a0a0a" stroke-width="1.5"/>
<rect x="66.90" y="466.70" width="10.20" height="70.40" fill="#67a93f"/>
<line x1="72.00" y1="466.70" x2="72.00" y2="461.60" stroke="#0a0a0a" stroke-width="0.9"/>
<line x1="70.10" y1="462.30" x2="73.90" y2="462.30" stroke="#0a0a0a" stroke-width="1.5"/>
<rect x="82.00" y="512.60" width="10.20" height="24.50" fill="#a6032b"/>
<line x1="87.10" y1="512.60" x2="87.10" y2="510.80" stroke="#0a0a0a" stroke-width="0.9"/>
<line x1="85.20" y1="511.50" x2="89.00" y2="511.50" stroke="#0a0a0a" stroke-width="1.5"/>
<rect x="93.40" y="476.00" width="10.20" height="61.10" fill="#2d4886"/>
<line x1="98.50" y1="476.00" x2="98.50" y2="469.00" stroke="#0a0a0a" stroke-width="0.9"/>
<line x1="96.60" y1="469.70" x2="100.40" y2="469.70" stroke="#0a0a0a" stroke-width="1.5"/>
<rect x="104.80" y="488.70" width="10.20" height="48.40" fill="#67a93f"/>
<line x1="109.90" y1="488.70" x2="109.90" y2="483.60" stroke="#0a0a0a" stroke-width="0.9"/>
<line x1="108.00" y1="484.30" x2="111.80" y2="484.30" stroke="#0a0a0a" stroke-width="1.5"/>
<rect x="121.00" y="501.50" width="10.20" height="35.60" fill="#a6032b"/>
<line x1="126.10" y1="501.50" x2="126.10" y2="492.20" stroke="#0a0a0a" stroke-width="0.9"/>
<line x1="124.20" y1="492.90" x2="128.00" y2="492.90" stroke="#0a0a0a" stroke-width="1.5"/>
<rect x="132.40" y="476.00" width="10.20" height="61.10" fill="#2d4886"/>
<line x1="137.50" y1="476.00" x2="137.50" y2="470.20" stroke="#0a0a0a" stroke-width="0.9"/>
<line x1="135.60" y1="470.90" x2="139.40" y2="470.90" stroke="#0a0a0a" stroke-width="1.5"/>
<rect x="143.80" y="476.40" width="10.20" height="60.70" fill="#67a93f"/>
<line x1="148.90" y1="476.40" x2="148.90" y2="470.90" stroke="#0a0a0a" stroke-width="0.9"/>
<line x1="147.00" y1="471.60" x2="150.80" y2="471.60" stroke="#0a0a0a" stroke-width="1.5"/>
<line x1="86.60" y1="456.70" x2="111.00" y2="456.70" stroke="#0a0a0a" stroke-width="1.2"/>
<circle cx="98.80" cy="452.80" r="1.15" fill="#1e1e1e"/>
<line x1="86.60" y1="463.70" x2="98.90" y2="463.70" stroke="#0a0a0a" stroke-width="1.2"/>
<circle cx="92.75" cy="460.40" r="1.15" fill="#1e1e1e"/>
<line x1="125.60" y1="462.00" x2="150.00" y2="462.00" stroke="#0a0a0a" stroke-width="1.2"/>
<circle cx="137.80" cy="457.40" r="1.15" fill="#1e1e1e"/>
<line x1="125.60" y1="469.00" x2="138.80" y2="469.00" stroke="#0a0a0a" stroke-width="1.2"/>
<circle cx="132.20" cy="464.40" r="1.15" fill="#1e1e1e"/>
<text x="45.50" y="545.81" font-size="7.8" textLength="30.25" lengthAdjust="spacingAndGlyphs">Baseline</text>
<text x="41.25" y="555.81" font-size="7.8" textLength="38.25" lengthAdjust="spacingAndGlyphs">before FPI</text>
<text x="98.75" y="546.56" font-size="7.8" text-anchor="middle">3</text>
<text x="137.50" y="546.56" font-size="7.8" text-anchor="middle">6</text>
<line x1="82.50" y1="552.20" x2="154.25" y2="552.20" stroke="#0a0a0a" stroke-width="1.3"/>
<text x="91.25" y="562.81" font-size="7.8" textLength="54.25" lengthAdjust="spacingAndGlyphs">Post-FPI (hour)</text>
<text x="186.20" y="419.30" font-size="11.5" textLength="9.20" lengthAdjust="spacingAndGlyphs" font-weight="bold" fill="#000" style="stroke:#000;stroke-width:0.35px">G</text>
<line x1="212.90" y1="441.00" x2="212.90" y2="537.40" stroke="#0a0a0a" stroke-width="1.3"/>
<line x1="210.30" y1="536.90" x2="212.90" y2="536.90" stroke="#0a0a0a" stroke-width="1.0"/>
<text x="206.40" y="539.82" font-size="8.1" text-anchor="end">0</text>
<line x1="210.30" y1="521.45" x2="212.90" y2="521.45" stroke="#0a0a0a" stroke-width="1.0"/>
<text x="206.40" y="524.37" font-size="8.1" text-anchor="end">2</text>
<line x1="210.30" y1="506.00" x2="212.90" y2="506.00" stroke="#0a0a0a" stroke-width="1.0"/>
<text x="206.40" y="508.92" font-size="8.1" text-anchor="end">4</text>
<line x1="210.30" y1="490.55" x2="212.90" y2="490.55" stroke="#0a0a0a" stroke-width="1.0"/>
<text x="206.40" y="493.47" font-size="8.1" text-anchor="end">6</text>
<line x1="210.30" y1="475.10" x2="212.90" y2="475.10" stroke="#0a0a0a" stroke-width="1.0"/>
<text x="206.40" y="478.02" font-size="8.1" text-anchor="end">8</text>
<line x1="210.30" y1="459.65" x2="212.90" y2="459.65" stroke="#0a0a0a" stroke-width="1.0"/>
<text x="206.40" y="462.57" font-size="8.1" text-anchor="end">10</text>
<line x1="210.30" y1="444.20" x2="212.90" y2="444.20" stroke="#0a0a0a" stroke-width="1.0"/>
<text x="206.40" y="447.12" font-size="8.1" text-anchor="end">12</text>
<line x1="212.90" y1="536.90" x2="342.70" y2="536.90" stroke="#0a0a0a" stroke-width="1.3"/>
<text x="192.80" y="499.40" font-size="9.6" textLength="20.70" lengthAdjust="spacingAndGlyphs" transform="rotate(-90 192.80 499.40)">mNSS</text>
<rect x="218.20" y="473.20" width="8.70" height="63.70" fill="#a6032b"/>
<line x1="222.55" y1="473.20" x2="222.55" y2="460.10" stroke="#0a0a0a" stroke-width="0.9"/>
<line x1="220.65" y1="460.80" x2="224.45" y2="460.80" stroke="#0a0a0a" stroke-width="1.5"/>
<rect x="227.60" y="529.90" width="8.70" height="7.00" fill="#2d4886"/>
<line x1="231.95" y1="529.90" x2="231.95" y2="526.60" stroke="#0a0a0a" stroke-width="0.9"/>
<line x1="230.05" y1="527.30" x2="233.85" y2="527.30" stroke="#0a0a0a" stroke-width="1.5"/>
<rect x="237.00" y="476.40" width="8.70" height="60.50" fill="#67a93f"/>
<line x1="241.35" y1="476.40" x2="241.35" y2="461.20" stroke="#0a0a0a" stroke-width="0.9"/>
<line x1="239.45" y1="461.90" x2="243.25" y2="461.90" stroke="#0a0a0a" stroke-width="1.5"/>
<rect x="248.30" y="479.00" width="8.70" height="57.90" fill="#a6032b"/>
<line x1="252.65" y1="479.00" x2="252.65" y2="469.90" stroke="#0a0a0a" stroke-width="0.9"/>
<line x1="250.75" y1="470.60" x2="254.55" y2="470.60" stroke="#0a0a0a" stroke-width="1.5"/>
<rect x="257.70" y="526.30" width="8.70" height="10.60" fill="#2d4886"/>
<line x1="262.05" y1="526.30" x2="262.05" y2="522.50" stroke="#0a0a0a" stroke-width="0.9"/>
<line x1="260.15" y1="523.20" x2="263.95" y2="523.20" stroke="#0a0a0a" stroke-width="1.5"/>
<rect x="267.10" y="511.90" width="8.70" height="25.00" fill="#67a93f"/>
<line x1="271.45" y1="511.90" x2="271.45" y2="508.60" stroke="#0a0a0a" stroke-width="0.9"/>
<line x1="269.55" y1="509.30" x2="273.35" y2="509.30" stroke="#0a0a0a" stroke-width="1.5"/>
<rect x="279.50" y="496.80" width="8.70" height="40.10" fill="#a6032b"/>
<line x1="283.85" y1="496.80" x2="283.85" y2="489.60" stroke="#0a0a0a" stroke-width="0.9"/>
<line x1="281.95" y1="490.30" x2="285.75" y2="490.30" stroke="#0a0a0a" stroke-width="1.5"/>
<rect x="288.90" y="532.20" width="8.70" height="4.70" fill="#2d4886"/>
<line x1="293.25" y1="532.20" x2="293.25" y2="530.40" stroke="#0a0a0a" stroke-width="0.9"/>
<line x1="291.35" y1="531.10" x2="295.15" y2="531.10" stroke="#0a0a0a" stroke-width="1.5"/>
<rect x="298.30" y="522.80" width="8.70" height="14.10" fill="#67a93f"/>
<line x1="302.65" y1="522.80" x2="302.65" y2="518.00" stroke="#0a0a0a" stroke-width="0.9"/>
<line x1="300.75" y1="518.70" x2="304.55" y2="518.70" stroke="#0a0a0a" stroke-width="1.5"/>
<rect x="311.60" y="518.00" width="8.70" height="18.90" fill="#a6032b"/>
<line x1="315.95" y1="518.00" x2="315.95" y2="514.70" stroke="#0a0a0a" stroke-width="0.9"/>
<line x1="314.05" y1="515.40" x2="317.85" y2="515.40" stroke="#0a0a0a" stroke-width="1.5"/>
<rect x="321.00" y="534.30" width="8.70" height="2.60" fill="#2d4886"/>
<line x1="325.35" y1="534.30" x2="325.35" y2="532.60" stroke="#0a0a0a" stroke-width="0.9"/>
<line x1="323.45" y1="533.30" x2="327.25" y2="533.30" stroke="#0a0a0a" stroke-width="1.5"/>
<rect x="330.40" y="527.80" width="8.70" height="9.10" fill="#67a93f"/>
<line x1="334.75" y1="527.80" x2="334.75" y2="524.10" stroke="#0a0a0a" stroke-width="0.9"/>
<line x1="332.85" y1="524.80" x2="336.65" y2="524.80" stroke="#0a0a0a" stroke-width="1.5"/>
<line x1="221.00" y1="452.90" x2="231.50" y2="452.90" stroke="#0a0a0a" stroke-width="1.2"/>
<circle cx="226.25" cy="449.20" r="1.15" fill="#1e1e1e"/>
<line x1="232.30" y1="458.60" x2="242.10" y2="458.60" stroke="#0a0a0a" stroke-width="1.2"/>
<circle cx="237.20" cy="455.30" r="1.15" fill="#1e1e1e"/>
<line x1="252.60" y1="459.40" x2="269.00" y2="459.40" stroke="#0a0a0a" stroke-width="1.2"/>
<circle cx="260.80" cy="455.30" r="1.15" fill="#1e1e1e"/>
<line x1="252.60" y1="468.00" x2="261.40" y2="468.00" stroke="#0a0a0a" stroke-width="1.2"/>
<circle cx="257.00" cy="463.70" r="1.15" fill="#1e1e1e"/>
<line x1="262.50" y1="505.30" x2="272.30" y2="505.30" stroke="#0a0a0a" stroke-width="1.2"/>
<circle cx="267.40" cy="501.60" r="1.15" fill="#1e1e1e"/>
<line x1="284.30" y1="479.30" x2="300.20" y2="479.30" stroke="#0a0a0a" stroke-width="1.2"/>
<circle cx="292.25" cy="475.40" r="1.15" fill="#1e1e1e"/>
<line x1="284.30" y1="487.40" x2="292.00" y2="487.40" stroke="#0a0a0a" stroke-width="1.2"/>
<circle cx="288.15" cy="483.50" r="1.15" fill="#1e1e1e"/>
<line x1="293.50" y1="515.30" x2="304.00" y2="515.30" stroke="#0a0a0a" stroke-width="1.2"/>
<circle cx="296.95" cy="511.00" r="1.15" fill="#1e1e1e"/>
<circle cx="300.55" cy="511.00" r="1.15" fill="#1e1e1e"/>
<line x1="316.00" y1="502.70" x2="337.80" y2="502.70" stroke="#0a0a0a" stroke-width="1.2"/>
<circle cx="323.30" cy="498.30" r="1.15" fill="#1e1e1e"/>
<circle cx="326.90" cy="498.30" r="1.15" fill="#1e1e1e"/>
<circle cx="330.50" cy="498.30" r="1.15" fill="#1e1e1e"/>
<line x1="316.00" y1="511.00" x2="325.30" y2="511.00" stroke="#0a0a0a" stroke-width="1.2"/>
<circle cx="318.85" cy="507.00" r="1.15" fill="#1e1e1e"/>
<circle cx="322.45" cy="507.00" r="1.15" fill="#1e1e1e"/>
<line x1="326.90" y1="520.20" x2="338.40" y2="520.20" stroke="#0a0a0a" stroke-width="1.2"/>
<circle cx="329.05" cy="516.20" r="1.15" fill="#1e1e1e"/>
<circle cx="332.65" cy="516.20" r="1.15" fill="#1e1e1e"/>
<circle cx="336.25" cy="516.20" r="1.15" fill="#1e1e1e"/>
<text x="231.50" y="546.82" font-size="8.1" text-anchor="middle">6</text>
<text x="262.50" y="546.82" font-size="8.1" text-anchor="middle">24</text>
<text x="293.00" y="546.82" font-size="8.1" text-anchor="middle">48</text>
<text x="324.70" y="546.82" font-size="8.1" text-anchor="middle">72</text>
<text x="242.90" y="558.90" font-size="9.4" textLength="67.40" lengthAdjust="spacingAndGlyphs">Post-FPI time (hour)</text>
<text x="358.50" y="418.90" font-size="11.5" textLength="7.70" lengthAdjust="spacingAndGlyphs" font-weight="bold" fill="#000" style="stroke:#000;stroke-width:0.35px">H</text>
<line x1="391.50" y1="442.00" x2="391.50" y2="537.00" stroke="#0a0a0a" stroke-width="1.3"/>
<line x1="388.90" y1="454.60" x2="391.50" y2="454.60" stroke="#0a0a0a" stroke-width="1.0"/>
<text x="385.70" y="457.34" font-size="7.6" text-anchor="end">1.0</text>
<line x1="388.90" y1="474.30" x2="391.50" y2="474.30" stroke="#0a0a0a" stroke-width="1.0"/>
<text x="385.70" y="477.04" font-size="7.6" text-anchor="end">0.8</text>
<line x1="388.90" y1="494.10" x2="391.50" y2="494.10" stroke="#0a0a0a" stroke-width="1.0"/>
<text x="385.70" y="496.84" font-size="7.6" text-anchor="end">0.6</text>
<line x1="388.90" y1="513.80" x2="391.50" y2="513.80" stroke="#0a0a0a" stroke-width="1.0"/>
<text x="385.70" y="516.54" font-size="7.6" text-anchor="end">0.4</text>
<line x1="388.90" y1="533.50" x2="391.50" y2="533.50" stroke="#0a0a0a" stroke-width="1.0"/>
<text x="385.70" y="536.24" font-size="7.6" text-anchor="end">0.2</text>
<line x1="391.50" y1="536.50" x2="509.30" y2="536.50" stroke="#0a0a0a" stroke-width="1.3"/>
<line x1="397.30" y1="536.50" x2="397.30" y2="538.80" stroke="#0a0a0a" stroke-width="1.0"/>
<text x="397.30" y="549.90" font-size="8.4" text-anchor="middle">0</text>
<line x1="422.30" y1="536.50" x2="422.30" y2="538.80" stroke="#0a0a0a" stroke-width="1.0"/>
<text x="422.30" y="549.90" font-size="8.4" text-anchor="middle">12</text>
<line x1="447.00" y1="536.50" x2="447.00" y2="538.80" stroke="#0a0a0a" stroke-width="1.0"/>
<text x="447.00" y="549.90" font-size="8.4" text-anchor="middle">24</text>
<line x1="471.90" y1="536.50" x2="471.90" y2="538.80" stroke="#0a0a0a" stroke-width="1.0"/>
<text x="471.90" y="549.90" font-size="8.4" text-anchor="middle">36</text>
<line x1="496.60" y1="536.50" x2="496.60" y2="538.80" stroke="#0a0a0a" stroke-width="1.0"/>
<text x="496.60" y="549.90" font-size="8.4" text-anchor="middle">72</text>
<text x="368.00" y="526.40" font-size="9.6" textLength="73.30" lengthAdjust="spacingAndGlyphs" transform="rotate(-90 368.00 526.40)">Accumulative survival</text>
<text x="417.20" y="563.20" font-size="9.6" textLength="67.80" lengthAdjust="spacingAndGlyphs">Post-FPI time (hour)</text>
<text x="395.70" y="533.15" font-size="8.2" textLength="28.60" lengthAdjust="spacingAndGlyphs">p &lt; 0.01</text>
<polyline points="397.60,454.60 397.60,460.20 400.30,460.20 400.30,472.70 404.40,472.70 404.40,510.30 407.80,510.30 407.80,517.20 499.40,517.20" fill="none" stroke="#8e1236" stroke-width="1.4" stroke-linejoin="miter"/>
<polyline points="397.60,454.60 397.60,472.70 407.60,472.70 407.60,482.30 499.40,482.30" fill="none" stroke="#5f9a3a" stroke-width="1.3" stroke-linejoin="miter"/>
<polyline points="397.10,454.60 499.40,454.60" fill="none" stroke="#2b3f85" stroke-width="1.3" stroke-linejoin="miter"/>
<text x="498.90" y="452.04" font-size="7.6" text-anchor="end">Sham</text>
<text x="437.40" y="479.14" font-size="7.6" textLength="61.50" lengthAdjust="spacingAndGlyphs">FPI+rADAMTS-13</text>
<text x="469.90" y="513.54" font-size="7.6" textLength="29.00" lengthAdjust="spacingAndGlyphs">FPI+PBS</text>
</g>
</svg>
</body></html>
